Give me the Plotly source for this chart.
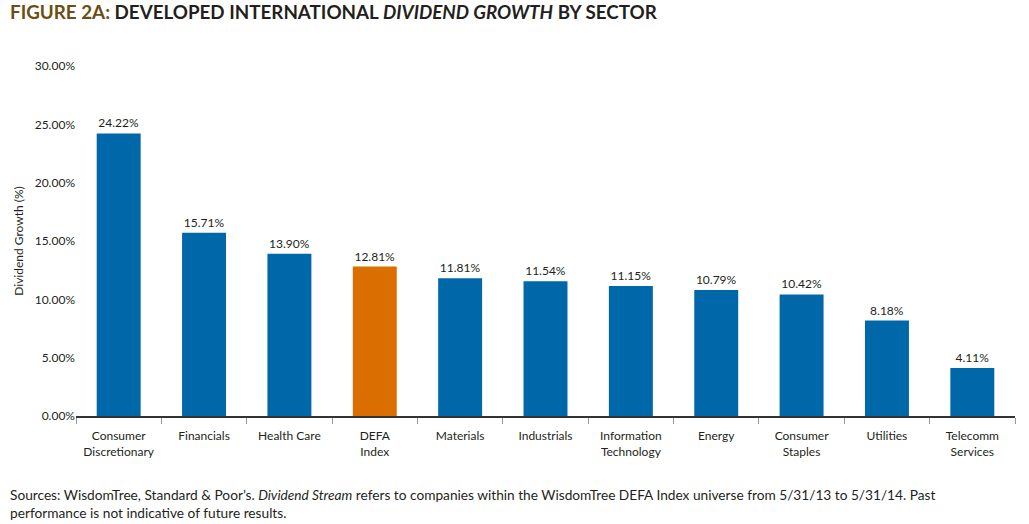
import plotly.graph_objects as go

categories = ["Consumer<br>Discretionary", "Financials", "Health Care", "DEFA<br>Index",
              "Materials", "Industrials", "Information<br>Technology", "Energy",
              "Consumer<br>Staples", "Utilities", "Telecomm<br>Services"]
values = [24.22, 15.71, 13.90, 12.81, 11.81, 11.54, 11.15, 10.79, 10.42, 8.18, 4.11]
highlight = "DEFA<br>Index"

BLUE = "#0067A8"
ORANGE = "#DA6F00"
TXT = "#231F20"

colors = [ORANGE if c == highlight else BLUE for c in categories]
labels = [f"{v:.2f}%" for v in values]

fig = go.Figure(go.Bar(
    x=categories, y=values, marker_color=colors, marker_line_width=0,
    text=labels, textposition="outside", cliponaxis=False,
    textfont=dict(size=12, color=TXT, family="Lato"),
))

fig.update_layout(
    width=1029, height=524,
    margin=dict(l=76, r=14, t=66, b=108),
    plot_bgcolor="white", paper_bgcolor="white",
    bargap=0.485,
    showlegend=False,
    font=dict(family="Lato", color=TXT, size=12),
    xaxis=dict(showline=True, linecolor="#333333", linewidth=1.5,
               ticks="outside", ticklen=6, tickcolor="#999999", tickwidth=1,
               tickson="boundaries", tickfont=dict(size=12, color=TXT),
               ticklabelstandoff=8, automargin=False),
    yaxis=dict(range=[0, 30], dtick=5, ticksuffix="%", tickformat=".2f",
               showgrid=False, zeroline=False, showline=False,
               tickfont=dict(size=12, color=TXT), automargin=False,
               title=dict(text="Dividend Growth (%)", font=dict(size=12, color=TXT), standoff=8)),
    annotations=[
        dict(xref="paper", yref="paper", x=-68/939, y=1 + (66 - 12) / 350,
             xanchor="left", yanchor="middle", showarrow=False,
             text="<b><span style='color:#6B4E12'>FIGURE 2A:</span> DEVELOPED INTERNATIONAL <i>DIVIDEND GROWTH</i> BY SECTOR</b>",
             font=dict(size=18.8, color="#231F20", family="Lato")),
        dict(xref="paper", yref="paper", x=-68/939, y=-(503 - 416) / 350,
             xanchor="left", yanchor="middle", showarrow=False, align="left",
             text="Sources: WisdomTree, Standard &amp; Poor’s. <i>Dividend Stream</i> refers to companies within the WisdomTree DEFA Index universe from 5/31/13 to 5/31/14. Past<br>performance is not indicative of future results.",
             font=dict(size=13.7, color=TXT, family="Lato")),
    ],
)

fig.write_html("out.html", config={"displayModeBar": False},
               post_script="document.body.style.margin='0';document.body.style.overflow='hidden';")
